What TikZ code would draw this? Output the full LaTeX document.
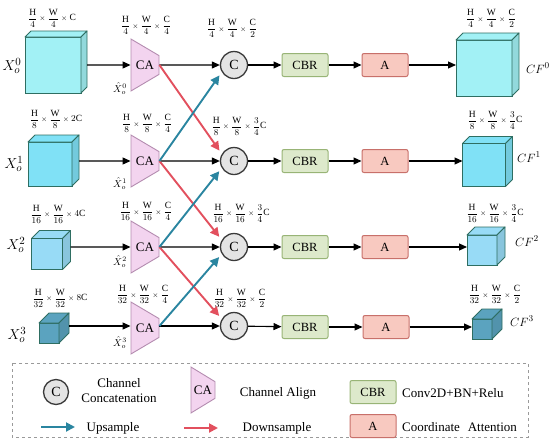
\documentclass[tikz,border=0pt]{standalone}
\usepackage{amsmath}
\usepackage{fontspec}
\setmainfont{Liberation Serif}
\usepackage{tikz}
\usetikzlibrary{calc, positioning, arrows.meta, shapes.geometric}

\definecolor{cube0}{HTML}{A2F1F5}
\definecolor{cube1}{HTML}{80E1F6}
\definecolor{cube2}{HTML}{98DBF6}
\definecolor{cube3}{HTML}{5BA3BF}
\definecolor{edgegreen}{HTML}{2E6E62}
\definecolor{cafill}{HTML}{F3D4EF}
\definecolor{caedge}{HTML}{B48CB0}
\definecolor{catfill}{HTML}{E4E4E4}
\definecolor{catedge}{HTML}{3A3A3A}
\definecolor{cbrfill}{HTML}{DDE9CB}
\definecolor{cbredge}{HTML}{98B476}
\definecolor{attfill}{HTML}{F8C9C0}
\definecolor{attedge}{HTML}{C8706A}
\definecolor{upblue}{HTML}{2A85A0}
\definecolor{downred}{HTML}{E2505E}
\definecolor{legendgray}{HTML}{9A9A9A}

\newcommand{\tms}{\mathbin{\scriptstyle\times}}

% feature map cube: name, x, y, size, depth, colour
\newcommand{\featcube}[6]{%
  \node[cubeface, fill=#6, minimum size=#4pt] (#1) at (#2,#3) {};
  \draw[cubeline, fill=#6] (#1.north west) -- ++(#5,-#5) -- ++(#4,0) -- (#1.north east) -- cycle;
  \draw[cubeline, fill=#6!90!black] (#1.north east) -- ++(#5,-#5) -- ++(0,#4) -- (#1.south east) -- cycle;
  \coordinate (#1-e) at ($(#1.east)+(#5,0)$);
}

\tikzset{
    cubeface/.style={rectangle, draw=edgegreen, line width=0.9pt, inner sep=0pt, outer sep=0pt},
    cubeline/.style={draw=edgegreen, line width=0.9pt, line join=round},
    ca/.style={
        trapezium,
        trapezium angle=67,
        trapezium stretches=true,
        shape border rotate=270,
        minimum width=52pt,
        minimum height=28pt,
        inner sep=0pt,
        draw=caedge,
        line width=0.9pt,
        fill=cafill,
        font=\fontsize{13}{13}\selectfont
    },
    cat/.style={circle, draw=catedge, line width=1.3pt, fill=catfill, minimum size=27pt, inner sep=0pt, font=\fontsize{14}{14}\selectfont},
    cbr/.style={rectangle, rounded corners=2pt, draw=cbredge, fill=cbrfill, line width=1pt, minimum width=46pt, minimum height=23pt, inner sep=0pt, font=\fontsize{12.5}{12.5}\selectfont},
    att/.style={rectangle, rounded corners=2pt, draw=attedge, fill=attfill, line width=1pt, minimum width=46pt, minimum height=23pt, inner sep=0pt, font=\fontsize{12.5}{12.5}\selectfont},
    line/.style={draw, line width=1.1pt, -{Triangle[length=8pt,width=7pt]}},
    upline/.style={draw=upblue, line width=1.9pt, -{Triangle[length=9pt,width=9pt]}},
    downline/.style={draw=downred, line width=1.9pt, -{Triangle[length=9pt,width=9pt]}},
    dimlab/.style={font=\fontsize{9.5}{9.5}\selectfont, inner sep=0pt},
    featlab/.style={font=\fontsize{15}{15}\selectfont, inner sep=0pt},
    hatlab/.style={font=\fontsize{10}{10}\selectfont, inner sep=0pt},
    outlab/.style={font=\fontsize{13}{13}\selectfont, inner sep=0pt},
    legtext/.style={font=\fontsize{13}{15}\selectfont, align=center, inner sep=0pt},
    legbox/.style={draw=legendgray, dashed, line width=0.8pt}
}

\begin{document}
\begin{tikzpicture}[x=1pt, y=-1pt]
    \useasboundingbox (0,0) rectangle (550,440);

    % --- ROW 0 ---
    \featcube{in0}{53}{65}{56}{6}{cube0}
    \node[featlab] (xin0) at (12,66) {$X_o^0$};
    \node[dimlab] (din0) at (52,18) {$\dfrac{\mathrm{H}}{4}\tms\dfrac{\mathrm{W}}{4}\tms\mathrm{C}$};
    \node[ca] (ca0) at (145,65) {CA};
    \node[hatlab] (xh0) at (120,89) {$\hat{X}_o^0$};
    \node[dimlab] (dca0) at (146,25) {$\dfrac{\mathrm{H}}{4}\tms\dfrac{\mathrm{W}}{4}\tms\dfrac{\mathrm{C}}{4}$};
    \node[cat] (c0) at (234,65) {C};
    \node[dimlab] (dc0) at (232,28) {$\dfrac{\mathrm{H}}{4}\tms\dfrac{\mathrm{W}}{4}\tms\dfrac{\mathrm{C}}{2}$};
    \node[cbr] (cbr0) at (305,65) {CBR};
    \node[att] (a0) at (385,65) {A};
    \featcube{out0}{484}{68}{56}{7}{cube0}
    \node[outlab] (cf0) at (538,68) {$CF^0$};
    \node[dimlab] (dout0) at (491,18) {$\dfrac{\mathrm{H}}{4}\tms\dfrac{\mathrm{W}}{4}\tms\dfrac{\mathrm{C}}{2}$};

    % --- ROW 1 ---
    \featcube{in1}{50}{164}{44}{7}{cube1}
    \node[featlab] (xin1) at (14,164) {$X_o^1$};
    \node[dimlab] (din1) at (56,119) {$\dfrac{\mathrm{H}}{8}\tms\dfrac{\mathrm{W}}{8}\tms2\mathrm{C}$};
    \node[ca] (ca1) at (145,161) {CA};
    \node[hatlab] (xh1) at (120,184) {$\hat{X}_o^1$};
    \node[dimlab] (dca1) at (147,123) {$\dfrac{\mathrm{H}}{8}\tms\dfrac{\mathrm{W}}{8}\tms\dfrac{\mathrm{C}}{4}$};
    \node[cat] (c1) at (234,161) {C};
    \node[dimlab] (dc1) at (239,126) {$\dfrac{\mathrm{H}}{8}\tms\dfrac{\mathrm{W}}{8}\tms\dfrac{3}{4}\mathrm{C}$};
    \node[cbr] (cbr1) at (305,161) {CBR};
    \node[att] (a1) at (385,161) {A};
    \featcube{out1}{484}{165}{43}{7}{cube1}
    \node[outlab] (cf1) at (529,157) {$CF^1$};
    \node[dimlab] (dout1) at (495,120) {$\dfrac{\mathrm{H}}{8}\tms\dfrac{\mathrm{W}}{8}\tms\dfrac{3}{4}\mathrm{C}$};

    % --- ROW 2 ---
    \featcube{in2}{47}{254}{31}{8}{cube2}
    \node[featlab] (xin2) at (16,245) {$X_o^2$};
    \node[dimlab] (din2) at (58,214) {$\dfrac{\mathrm{H}}{16}\tms\dfrac{\mathrm{W}}{16}\tms4\mathrm{C}$};
    \node[ca] (ca2) at (145,247) {CA};
    \node[hatlab] (xh2) at (120,262) {$\hat{X}_o^2$};
    \node[dimlab] (dca2) at (146,211) {$\dfrac{\mathrm{H}}{16}\tms\dfrac{\mathrm{W}}{16}\tms\dfrac{\mathrm{C}}{4}$};
    \node[cat] (c2) at (234,247) {C};
    \node[dimlab] (dc2) at (241,213) {$\dfrac{\mathrm{H}}{16}\tms\dfrac{\mathrm{W}}{16}\tms\dfrac{3}{4}\mathrm{C}$};
    \node[cbr] (cbr2) at (305,247) {CBR};
    \node[att] (a2) at (385,247) {A};
    \featcube{out2}{482}{250}{30}{8}{cube2}
    \node[outlab] (cf2) at (527,241) {$CF^2$};
    \node[dimlab] (dout2) at (495,213) {$\dfrac{\mathrm{H}}{16}\tms\dfrac{\mathrm{W}}{16}\tms\dfrac{3}{4}\mathrm{C}$};

    % --- ROW 3 ---
    \featcube{in3}{49}{333}{20}{10}{cube3}
    \node[featlab] (xin3) at (17,335) {$X_o^3$};
    \node[dimlab] (din3) at (60,298) {$\dfrac{\mathrm{H}}{32}\tms\dfrac{\mathrm{W}}{32}\tms8\mathrm{C}$};
    \node[ca] (ca3) at (145,328) {CA};
    \node[hatlab] (xh3) at (120,343) {$\hat{X}_o^3$};
    \node[dimlab] (dca3) at (143,294) {$\dfrac{\mathrm{H}}{32}\tms\dfrac{\mathrm{W}}{32}\tms\dfrac{\mathrm{C}}{4}$};
    \node[cat] (c3) at (234,326) {C};
    \node[dimlab] (dc3) at (240,298) {$\dfrac{\mathrm{H}}{32}\tms\dfrac{\mathrm{W}}{32}\tms\dfrac{\mathrm{C}}{2}$};
    \node[cbr] (cbr3) at (305,327) {CBR};
    \node[att] (a3) at (386,327) {A};
    \featcube{out3}{482}{329}{20}{10}{cube3}
    \node[outlab] (cf3) at (522,321) {$CF^3$};
    \node[dimlab] (dout3) at (495,294) {$\dfrac{\mathrm{H}}{32}\tms\dfrac{\mathrm{W}}{32}\tms\dfrac{\mathrm{C}}{2}$};

    % Straight connections
    \draw[line] (in0-e |- ca0) -- (ca0);
    \draw[line] (ca0.east) -- (c0);
    \draw[line] (c0) -- (cbr0);
    \draw[line] (cbr0) -- (a0);
    \draw[line] (a0) -- (a0 -| out0.west);

    \draw[line] (in1-e |- ca1) -- (ca1);
    \draw[line] (ca1.east) -- (c1);
    \draw[line] (c1) -- (cbr1);
    \draw[line] (cbr1) -- (a1);
    \draw[line] (a1) -- (a1 -| out1.west);

    \draw[line] (in2-e |- ca2) -- (ca2);
    \draw[line] (ca2.east) -- (c2);
    \draw[line] (c2) -- (cbr2);
    \draw[line] (cbr2) -- (a2);
    \draw[line] (a2) -- (a2 -| out2.west);

    \draw[line] (in3-e |- c3) -- (ca3.west |- c3);
    \draw[line] (ca3.east |- c3) -- (c3);
    \draw[line] (c3) -- (cbr3);
    \draw[line] (cbr3) -- (a3);
    \draw[line] (a3) -- (a3 -| out3.west);

    % Cross connections: downsample (red) and upsample (blue)
    \draw[downline, shorten >=4pt] (ca0.east) -- (c1.150);
    \draw[downline, shorten >=4pt] (ca1.east) -- (c2.150);
    \draw[downline, shorten >=4pt] (ca2.east) -- (c3.150);
    \draw[upline, shorten >=4pt] (ca1.east) -- (c0.210);
    \draw[upline, shorten >=4pt] (ca2.east) -- (c1.210);
    \draw[upline, shorten >=4pt] (ca3.east |- c3) -- (c2.210);

    % --- LEGEND ---
    \draw[legbox] (12,363) rectangle (528,437);
    \node[cat, minimum size=25pt] (lc) at (56,392) {C};
    \node[legtext] (lct) at (119,391) {Channel\\Concatenation};
    \node[ca, minimum width=46pt, minimum height=24pt] (lca) at (203,390) {CA};
    \node[legtext] (lcat) at (278,393) {Channel Align};
    \node[cbr] (lcbr) at (373,392) {CBR};
    \node[legtext, anchor=west] (lcbrt) at (402,393) {Conv2D+BN+Relu};
    \node[att] (la) at (373,426) {A};
    \node[legtext, anchor=west] (lat) at (402,427) {Coordinate\hspace{0.6em}Attention};
    \coordinate (lup0) at (41,427);
    \coordinate (lup1) at (75,427);
    \draw[upline] (lup0) -- (lup1);
    \node[legtext] (lupt) at (113,428) {Upsample};
    \coordinate (ldn0) at (184,428);
    \coordinate (ldn1) at (218,428);
    \draw[downline] (ldn0) -- (ldn1);
    \node[legtext] (ldnt) at (277,428) {Downsample};

\end{tikzpicture}
\end{document}
